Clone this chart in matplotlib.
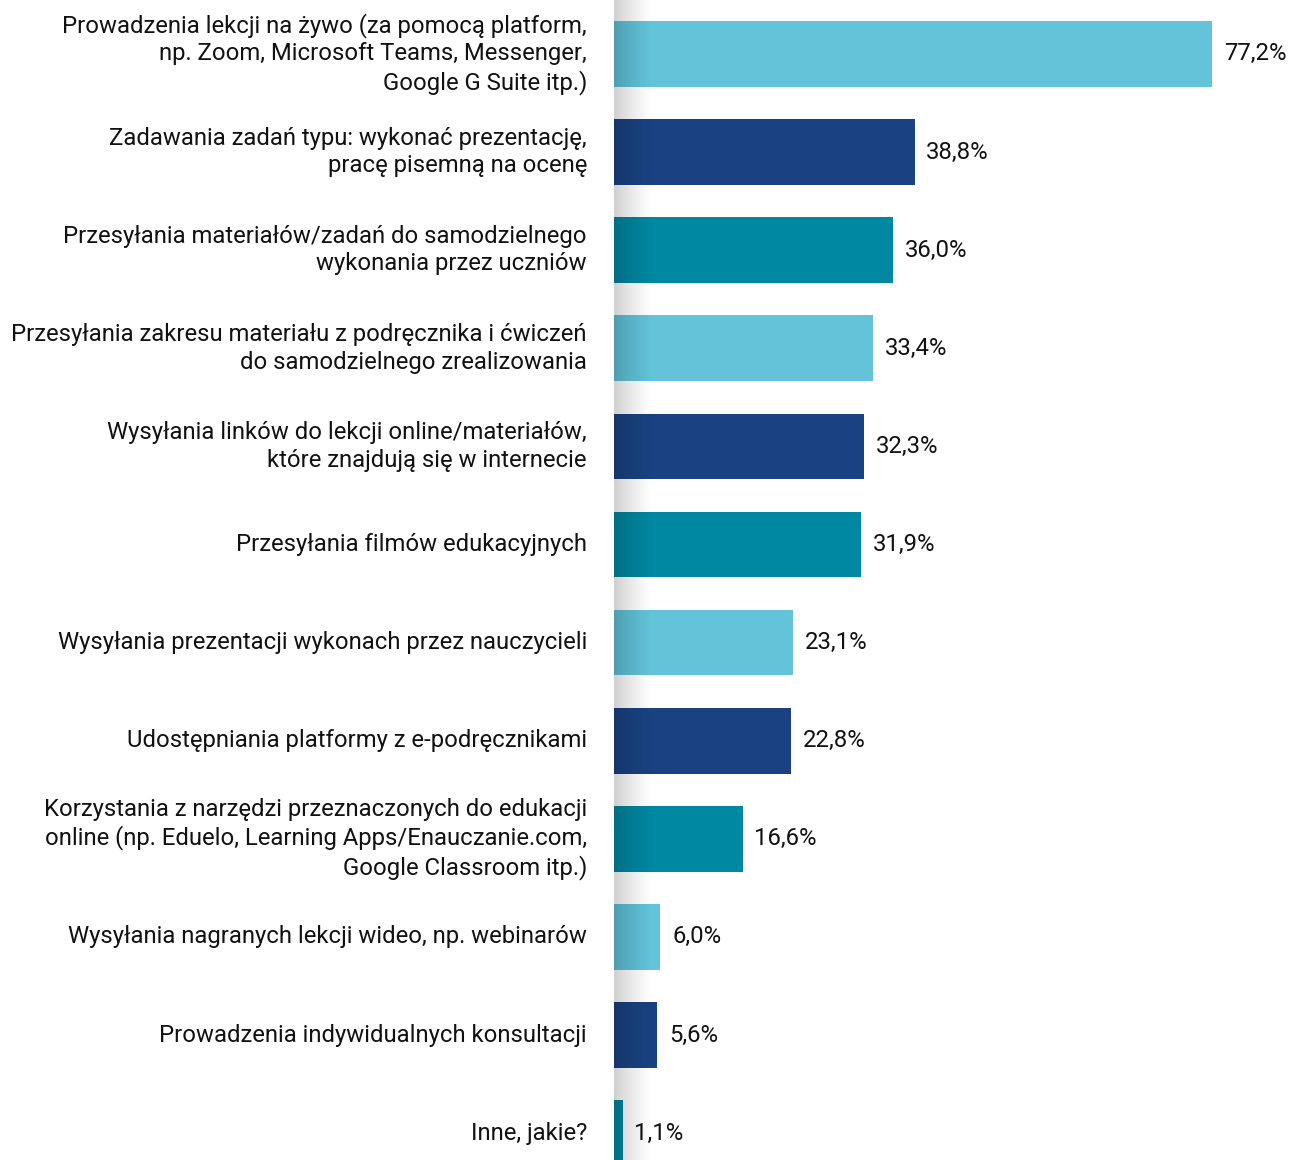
import matplotlib
matplotlib.use("Agg")
import matplotlib.pyplot as plt
import numpy as np

categories = [
    "Prowadzenia lekcji na żywo (za pomocą platform,\nnp. Zoom, Microsoft Teams, Messenger,\nGoogle G Suite itp.)",
    "Zadawania zadań typu: wykonać prezentację,\npracę pisemną na ocenę",
    "Przesyłania materiałów/zadań do samodzielnego\nwykonania przez uczniów",
    "Przesyłania zakresu materiału z podręcznika i ćwiczeń\ndo samodzielnego zrealizowania",
    "Wysyłania linków do lekcji online/materiałów,\nktóre znajdują się w internecie",
    "Przesyłania filmów edukacyjnych",
    "Wysyłania prezentacji wykonach przez nauczycieli",
    "Udostępniania platformy z e-podręcznikami",
    "Korzystania z narzędzi przeznaczonych do edukacji\nonline (np. Eduelo, Learning Apps/Enauczanie.com,\nGoogle Classroom itp.)",
    "Wysyłania nagranych lekcji wideo, np. webinarów",
    "Prowadzenia indywidualnych konsultacji",
    "Inne, jakie?",
]
values = [77.2, 38.8, 36.0, 33.4, 32.3, 31.9, 23.1, 22.8, 16.6, 6.0, 5.6, 1.1]
value_labels = ["77,2%", "38,8%", "36,0%", "33,4%", "32,3%", "31,9%",
                "23,1%", "22,8%", "16,6%", "6,0%", "5,6%", "1,1%"]
palette = ["#62C3D9", "#1A4282", "#0087A2"]

plt.rcParams['font.family'] = ['Roboto', 'DejaVu Sans']

W, H = 1289, 1160
fig = plt.figure(figsize=(W / 100, H / 100), dpi=100)
left = 614 / W
ax = fig.add_axes([left, 0, 1 - left, 1])

y = np.arange(len(values))
colors = [palette[i % 3] for i in range(len(values))]
ax.barh(y, values, height=0.67, color=colors, zorder=2)

for yi, v, lab in zip(y, values, value_labels):
    ax.annotate(lab, (v, yi), xytext=(8.5, 0), textcoords="offset points",
                ha="left", va="center", fontsize=17.2, color="#111111")

for yi, cat in zip(y, categories):
    ax.annotate(cat, (0, yi), xytext=(-19.5, 0), textcoords="offset points",
                ha="right", va="center", fontsize=17.2, color="#111111",
                linespacing=1.25, annotation_clip=False)

# soft shadow along the axis
grad = np.zeros((2, 256, 4))
alpha = np.linspace(0.28, 0.0, 256) ** 1.3
grad[..., 3] = alpha
ax.imshow(grad, extent=(0, 40 / 7.746, 11.274, -0.55), aspect="auto",
          zorder=3, interpolation="bilinear")
ax.set_xlim(0, (W - 614) / 7.746)
ax.set_ylim(11.274, -0.55)

ax.axis("off")
fig.savefig("out.png", dpi=100)
